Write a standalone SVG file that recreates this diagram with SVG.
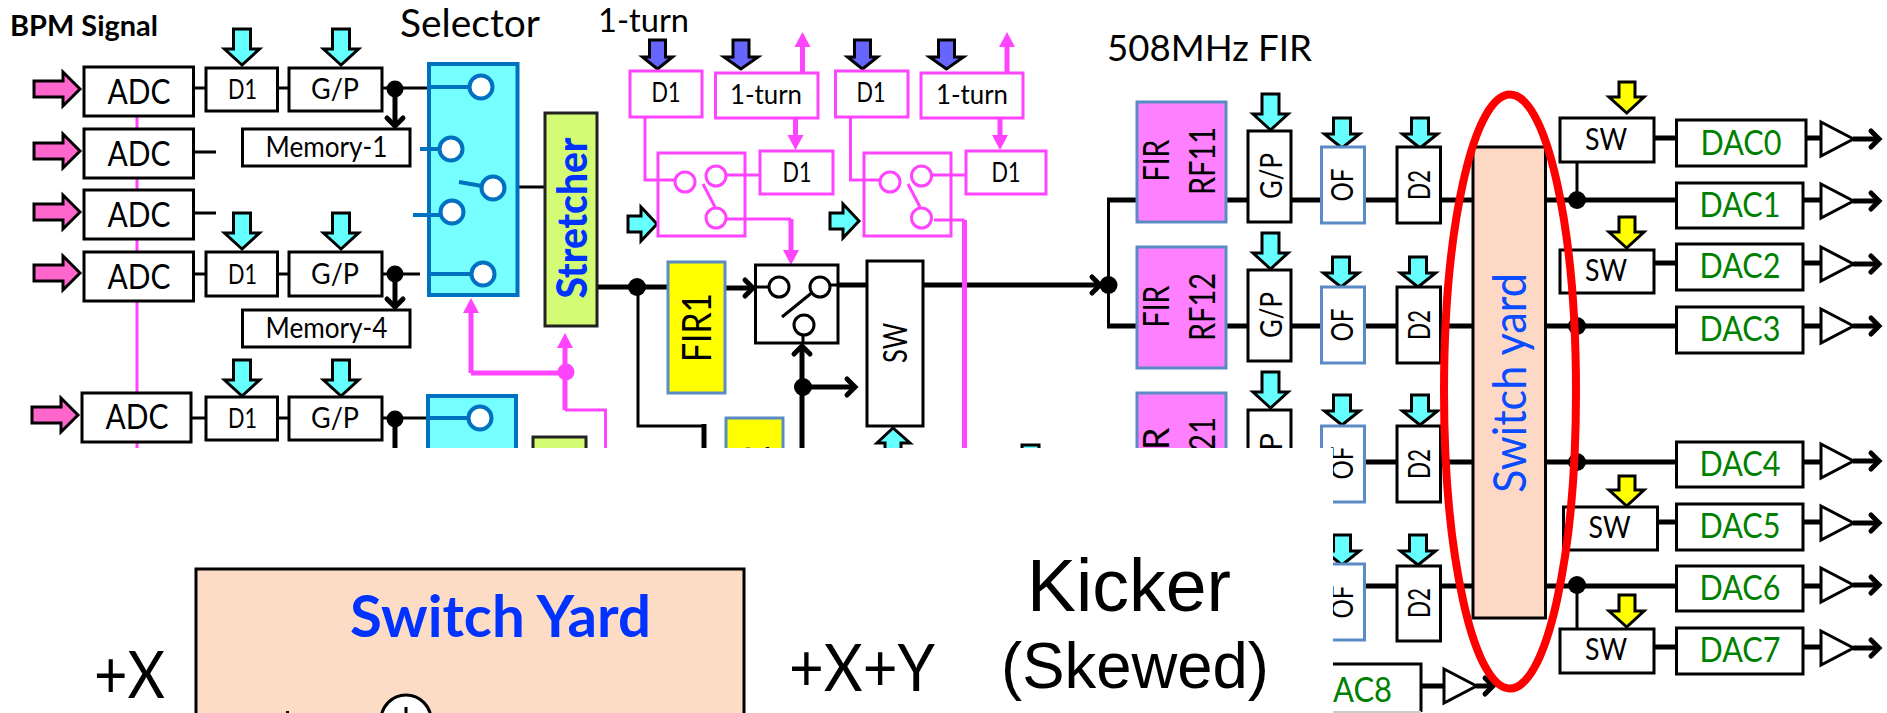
<svg xmlns="http://www.w3.org/2000/svg" width="1887" height="713" viewBox="0 0 1887 713">
<style>
text{font-family:Lato,"Liberation Sans",sans-serif;fill:#000}
.m{text-anchor:middle}
.a{font-family:"Liberation Sans",Arial,sans-serif}
.box{fill:#fff;stroke:#000;stroke-width:3}
.mbox{fill:#fff;stroke:#ff44ff;stroke-width:3}
.bbox{fill:#fff;stroke:#5b8bc4;stroke-width:3}
.fir{fill:#ff80ff;stroke:#5b8bc4;stroke-width:3}
.yel{fill:#ff0;stroke:#5b8bc4;stroke-width:3}
.sel{fill:#75ffff;stroke:#0070c0;stroke-width:4}
.sc{fill:#fff;stroke:#0070c0;stroke-width:4}
.sl{stroke:#0070c0;stroke-width:4;fill:none}
.mc{fill:#fff;stroke:#ff44ff;stroke-width:3}
.ml{stroke:#ff44ff;stroke-width:3;fill:none}
.mt{stroke:#ff44ff;stroke-width:5;fill:none}
.bc{fill:#fff;stroke:#000;stroke-width:3}
.l{stroke:#000;stroke-width:3;fill:none}
.th{stroke:#000;stroke-width:5;fill:none}
.dot{fill:#000}
.pk{fill:#ff66cc;stroke:#000;stroke-width:3}
.cy{fill:#66ffff;stroke:#000;stroke-width:3}
.bl{fill:#6666ff;stroke:#000;stroke-width:3}
.ye{fill:#ff0;stroke:#000;stroke-width:3}
.tri{fill:#fff;stroke:#000;stroke-width:3}
.ch{marker-end:url(#chev)}
.mh{marker-end:url(#mag)}
.g{fill:#008000}
</style>
<defs>
<marker id="chev" markerUnits="userSpaceOnUse" markerWidth="24" markerHeight="28" refX="14" refY="14" viewBox="0 0 24 28" orient="auto"><path d="M6 6L14 14L6 22" fill="none" stroke="#000" stroke-width="5" stroke-linecap="round"/></marker>
<marker id="mag" markerUnits="userSpaceOnUse" markerWidth="18" markerHeight="18" refX="3" refY="8" viewBox="0 0 18 16" orient="auto"><path d="M0 0L15 8L0 16z" fill="#ff44ff"/></marker>
<polygon id="dA" points="0,0 -17.500,-16 -8.500,-16 -8.500,-36 8.500,-36 8.500,-16 17.500,-16"/>
<polygon id="dB" points="0,0 -17.500,-14 -8.500,-14 -8.500,-30 8.500,-30 8.500,-14 17.500,-14"/>
<polygon id="dC" points="0,0 -15,-12 -8,-12 -8,-29 8,-29 8,-12 15,-12"/>
<polygon id="dD" points="0,0 -17,-12 -8,-12 -8,-29 8,-29 8,-12 17,-12"/>
<polygon id="rP" points="0,0 -17,-17 -17,-8 -46,-8 -46,8 -17,8 -17,17"/>
<polygon id="rC" points="0,0 -16,-17 -16,-8 -29,-8 -29,8 -16,8 -16,17"/>
<polygon id="tr" points="0,-17 32.500,0 0,17"/>
</defs>

<g id="connectors">
<path class="ml" d="M137 116V448"/>
<path class="l" d="M193 88H206M277 88H289M382 88H429M193 152H216M193 213H216M193 274H206M277 274H289M382 274H420M191 418H206M277 418H289M382 418H428M505 187H545"/>
<path class="th ch" d="M395 89V126"/>
<path class="th ch" d="M395 274V307"/>
<path class="th" d="M395 419V450"/>
<path class="mt mh" d="M471 373V310"/>
<path class="mt" d="M471 373H566"/>
<path class="mt mh" d="M565 410V345"/>
<path class="ml" d="M565 410H605.500V448"/>
<path class="th" d="M597 287H668"/>
<path class="l" d="M638 287V426H704"/>
<path class="th" d="M704 424V448"/>
<path class="th ch" d="M725 288H753"/>
<path class="th" d="M838 285H867"/>
<path class="th ch" d="M923 285H1100"/>
<path class="l" d="M1108.500 200V326"/>
<path class="th" d="M1107 200H1137M1107 326H1137"/>
<path class="th ch" d="M802 448V346"/>
<path class="th ch" d="M803 387H855"/>
<path class="mt" d="M964.500 220V448"/>
<path class="ml" d="M934 220H964.500"/>
<path class="mt mh" d="M802.500 73V44"/>
<path class="mt mh" d="M1007 73V44"/>
<path class="mt mh" d="M795.500 118V138"/>
<path class="mt mh" d="M1000 118V138"/>
<path class="ml" d="M645 117V180H658M850.500 117V180H864"/>
<path class="ml" d="M745 175H760M951 175H966"/>
<path class="ml" d="M745 219H791"/>
<path class="mt mh" d="M791 219V253"/>
<path class="th" d="M1226 200H1473M1226 326H1473M1226 462H1473M1226 586H1473"/>
<path class="th" d="M1545 200H1676.500M1545 326H1676.500M1545 462H1676.500M1545 586H1676.500"/>
<path class="l" d="M1577 162V200M1577 586V629"/>
<path class="th" d="M1654 138H1676.500M1654 263H1676.500M1657.500 522H1676.500M1654 647H1676.500"/>
<path class="th" d="M1806 138H1821M1803 200H1821M1803 263H1821M1803 326H1821M1803 462H1821M1803 522H1821M1803 586H1821M1803 647H1821M1421 686H1444"/>
<path class="th ch" d="M1853 139H1879"/><path class="th ch" d="M1853 201H1879"/><path class="th ch" d="M1853 264H1879"/><path class="th ch" d="M1853 326H1879"/><path class="th ch" d="M1853 461H1879"/><path class="th ch" d="M1853 523H1879"/><path class="th ch" d="M1853 585H1879"/><path class="th ch" d="M1853 648H1879"/><path class="th ch" d="M1476 686H1493"/>
<circle class="dot" cx="395" cy="89" r="8.500"/><circle class="dot" cx="395" cy="274" r="8.500"/><circle class="dot" cx="395" cy="419" r="8.500"/>
<circle cx="566" cy="372" r="8.500" fill="#ff44ff"/>
<circle class="dot" cx="637" cy="287" r="9"/><circle class="dot" cx="803" cy="387" r="9"/><circle class="dot" cx="1108.500" cy="285" r="9"/>
<circle class="dot" cx="1577" cy="200" r="9"/><circle class="dot" cx="1577" cy="326" r="9"/><circle class="dot" cx="1577" cy="462" r="9"/><circle class="dot" cx="1577" cy="585" r="9"/>
</g>

<g id="input-arrows">
<use href="#rP" class="pk" x="80" y="89"/><use href="#rP" class="pk" x="80" y="151"/><use href="#rP" class="pk" x="80" y="212"/><use href="#rP" class="pk" x="80" y="273"/><use href="#rP" class="pk" x="78" y="415"/>
<use href="#dA" class="cy" x="242" y="65"/><use href="#dA" class="cy" x="341" y="65"/><use href="#dA" class="cy" x="242" y="249"/><use href="#dA" class="cy" x="341" y="249"/><use href="#dA" class="cy" x="242" y="396"/><use href="#dA" class="cy" x="341" y="396"/>
<use href="#dC" class="bl" x="657.500" y="69"/><use href="#dD" class="bl" x="741" y="69"/><use href="#dC" class="bl" x="862.500" y="69"/><use href="#dD" class="bl" x="946.500" y="69"/>
<use href="#rC" class="cy" x="657" y="224"/><use href="#rC" class="cy" x="859" y="221"/>
<use href="#dA" class="cy" x="1270.500" y="130"/><use href="#dB" class="cy" x="1342" y="148"/><use href="#dB" class="cy" x="1420" y="148"/>
<use href="#dA" class="cy" x="1270.500" y="269"/><use href="#dB" class="cy" x="1341" y="287"/><use href="#dB" class="cy" x="1418" y="287"/>
<use href="#dA" class="cy" x="1270.500" y="408"/><use href="#dB" class="cy" x="1342" y="425"/><use href="#dB" class="cy" x="1420" y="425"/>
<use href="#dB" class="cy" x="1342" y="565"/><use href="#dB" class="cy" x="1418" y="565"/>
<polygon class="ye" points="1626.700,113 1609,97 1619,97 1619,82 1635,82 1635,97 1644,97"/>
<polygon class="ye" points="1626.700,248 1609,232 1619,232 1619,217 1635,217 1635,232 1644,232"/>
<polygon class="ye" points="1626.700,506 1609,490 1619,490 1619,476 1635,476 1635,490 1644,490"/>
<polygon class="ye" points="1626.700,627 1609,611 1619,611 1619,595 1635,595 1635,611 1644,611"/>
<polygon class="cy" points="893,428 877,443 885,443 885,452 901,452 901,443 910,443"/>
<rect class="cy" x="1022" y="445" width="17" height="10"/>
</g>

<text id="bpm-label" x="10" y="36" font-size="28" font-weight="700" textLength="148" lengthAdjust="spacingAndGlyphs">BPM Signal</text>
<text id="selector-label" x="400" y="37" font-size="39" textLength="140" lengthAdjust="spacingAndGlyphs">Selector</text>
<text id="oneturn-label" x="598" y="32" font-size="33" textLength="91" lengthAdjust="spacingAndGlyphs">1-turn</text>
<text id="fir-label" x="1107" y="61" font-size="36" textLength="205" lengthAdjust="spacingAndGlyphs">508MHz FIR</text>

<g id="adc1"><rect class="box" x="84" y="67" width="109.500" height="49"/><text class="m" x="139" y="104" font-size="35" textLength="63" lengthAdjust="spacingAndGlyphs">ADC</text></g>
<g id="adc2"><rect class="box" x="84" y="129" width="109.500" height="49"/><text class="m" x="139" y="166" font-size="35" textLength="63" lengthAdjust="spacingAndGlyphs">ADC</text></g>
<g id="adc3"><rect class="box" x="84" y="190" width="109.500" height="49"/><text class="m" x="139" y="227" font-size="35" textLength="63" lengthAdjust="spacingAndGlyphs">ADC</text></g>
<g id="adc4"><rect class="box" x="84" y="252" width="109.500" height="49"/><text class="m" x="139" y="289" font-size="35" textLength="63" lengthAdjust="spacingAndGlyphs">ADC</text></g>
<g id="adc5"><rect class="box" x="82" y="393" width="109" height="49"/><text class="m" x="137" y="429" font-size="35" textLength="63" lengthAdjust="spacingAndGlyphs">ADC</text></g>
<g id="d1a"><rect class="box" x="206" y="68" width="71.500" height="43"/><text class="m" x="242.500" y="99" font-size="26" textLength="29" lengthAdjust="spacingAndGlyphs">D1</text></g>
<g id="d1b"><rect class="box" x="206" y="252" width="71.500" height="44"/><text class="m" x="242.500" y="284" font-size="26" textLength="29" lengthAdjust="spacingAndGlyphs">D1</text></g>
<g id="d1c"><rect class="box" x="206" y="397" width="71.500" height="43"/><text class="m" x="242.500" y="428" font-size="26" textLength="29" lengthAdjust="spacingAndGlyphs">D1</text></g>
<g id="gpa"><rect class="box" x="289" y="68" width="93" height="43"/><text class="m" x="335" y="99" font-size="29" textLength="48" lengthAdjust="spacingAndGlyphs">G/P</text></g>
<g id="gpb"><rect class="box" x="289" y="252" width="93" height="44"/><text class="m" x="335" y="284" font-size="29" textLength="48" lengthAdjust="spacingAndGlyphs">G/P</text></g>
<g id="gpc"><rect class="box" x="289" y="397" width="93" height="43"/><text class="m" x="335" y="428" font-size="29" textLength="48" lengthAdjust="spacingAndGlyphs">G/P</text></g>
<g id="memory1"><rect class="box" x="242.500" y="129" width="167.500" height="37"/><text class="m" x="326.500" y="157" font-size="28" textLength="122" lengthAdjust="spacingAndGlyphs">Memory-1</text></g>
<g id="memory4"><rect class="box" x="242.500" y="310" width="167.500" height="37"/><text class="m" x="326.500" y="338" font-size="28" textLength="122" lengthAdjust="spacingAndGlyphs">Memory-4</text></g>

<g id="selector1"><rect class="sel" x="429" y="64" width="88.500" height="231"/>
<path class="sl" d="M429 87H469M420 149H439M459 182L482 186M413 215H441M427 274H471"/>
<circle class="sc" cx="481" cy="87" r="11.500"/><circle class="sc" cx="451" cy="149" r="11.500"/><circle class="sc" cx="493" cy="188" r="11.500"/><circle class="sc" cx="452" cy="212" r="11.500"/><circle class="sc" cx="483" cy="274" r="11.500"/></g>
<g id="selector2"><rect class="sel" x="428" y="396" width="88" height="70"/><path class="sl" d="M428 418H468"/><circle class="sc" cx="480" cy="418" r="11.500"/></g>
<g id="stretcher1"><rect x="545" y="113" width="52" height="213" fill="#d4fb74" stroke="#222" stroke-width="3"/><text transform="translate(587,218) rotate(-90)" class="m" font-size="42" font-weight="900" style="fill:#0033ff" textLength="161" lengthAdjust="spacingAndGlyphs">Stretcher</text></g>
<g id="stretcher2"><rect x="533" y="437" width="53" height="40" fill="#d4fb74" stroke="#222" stroke-width="3"/></g>

<g id="md1a"><rect class="mbox" x="630" y="71" width="72" height="46"/><text class="m" x="666" y="102" font-size="26" textLength="29" lengthAdjust="spacingAndGlyphs">D1</text></g>
<g id="mturn1"><rect class="mbox" x="715.500" y="73" width="102.500" height="45"/><text class="m" x="766" y="104" font-size="27" textLength="72" lengthAdjust="spacingAndGlyphs">1-turn</text></g>
<g id="md1b"><rect class="mbox" x="835.500" y="71" width="72.500" height="46"/><text class="m" x="871" y="102" font-size="26" textLength="29" lengthAdjust="spacingAndGlyphs">D1</text></g>
<g id="mturn2"><rect class="mbox" x="921" y="73" width="102" height="45"/><text class="m" x="972" y="104" font-size="27" textLength="72" lengthAdjust="spacingAndGlyphs">1-turn</text></g>
<g id="md1c"><rect class="mbox" x="760" y="151" width="73" height="43"/><text class="m" x="797" y="182" font-size="26" textLength="29" lengthAdjust="spacingAndGlyphs">D1</text></g>
<g id="md1d"><rect class="mbox" x="966" y="151" width="80" height="43"/><text class="m" x="1006" y="182" font-size="26" textLength="29" lengthAdjust="spacingAndGlyphs">D1</text></g>
<g id="mswitch1"><rect class="mbox" x="658" y="153" width="87" height="83"/><path class="ml" d="M658 180H675M726 175H745M726 219H745M703 184L715 207"/><circle class="mc" cx="685" cy="182" r="10"/><circle class="mc" cx="716" cy="176" r="10"/><circle class="mc" cx="716" cy="218" r="10"/></g>
<g id="mswitch2"><rect class="mbox" x="864" y="153" width="87" height="83"/><path class="ml" d="M864 180H881M931 175H951M934 220H951M908 184L920 207"/><circle class="mc" cx="890" cy="182" r="10"/><circle class="mc" cx="921.500" cy="176" r="10"/><circle class="mc" cx="921.500" cy="218" r="10"/></g>

<g id="fir1"><rect class="yel" x="668" y="262" width="57" height="131"/><text transform="translate(711,327.500) rotate(-90)" class="m" font-size="40" textLength="69" lengthAdjust="spacingAndGlyphs">FIR1</text></g>
<g id="fir2"><rect class="yel" x="726" y="418" width="57" height="60"/><text transform="translate(769,468) rotate(-90)" font-size="40">2</text></g>
<g id="switch"><rect class="box" x="755.500" y="265" width="82.500" height="78"/><path class="l" d="M755 287H769M830 285H838M782 317L811.500 293M803 335V343"/><circle class="bc" cx="779" cy="287" r="10"/><circle class="bc" cx="820" cy="287" r="10"/><circle class="bc" cx="804" cy="325" r="10"/></g>
<g id="sw-main"><rect class="box" x="867" y="261" width="56" height="165"/><text transform="translate(907,343) rotate(-90)" class="m" font-size="32" textLength="40" lengthAdjust="spacingAndGlyphs">SW</text></g>

<g id="fir-rf11"><rect class="fir" x="1137" y="102" width="89" height="120"/><text transform="translate(1169,160.500) rotate(-90)" class="m" font-size="36" textLength="42" lengthAdjust="spacingAndGlyphs">FIR</text><text transform="translate(1215,161) rotate(-90)" class="m" font-size="36" textLength="68" lengthAdjust="spacingAndGlyphs">RF11</text></g>
<g id="fir-rf12"><rect class="fir" x="1137" y="247" width="89" height="121"/><text transform="translate(1169,306.500) rotate(-90)" class="m" font-size="36" textLength="42" lengthAdjust="spacingAndGlyphs">FIR</text><text transform="translate(1215,307) rotate(-90)" class="m" font-size="36" textLength="68" lengthAdjust="spacingAndGlyphs">RF12</text></g>
<g id="fir-rf21"><rect class="fir" x="1137" y="393" width="89" height="70"/><text transform="translate(1169,450) rotate(-90)" font-size="36">R</text><text transform="translate(1215,451) rotate(-90)" font-size="36" textLength="34" lengthAdjust="spacingAndGlyphs">21</text></g>

<g id="gp1"><rect class="box" x="1248" y="131" width="43" height="91"/><text transform="translate(1281.500,176) rotate(-90)" class="m" font-size="30" textLength="46" lengthAdjust="spacingAndGlyphs">G/P</text></g>
<g id="of1"><rect class="bbox" x="1321.500" y="147" width="43" height="76"/><text transform="translate(1353,185) rotate(-90)" class="m" font-size="30" textLength="33" lengthAdjust="spacingAndGlyphs">OF</text></g>
<g id="d21"><rect class="box" x="1397" y="147" width="43.500" height="76"/><text transform="translate(1429.500,185) rotate(-90)" class="m" font-size="30" textLength="30" lengthAdjust="spacingAndGlyphs">D2</text></g>
<g id="gp2"><rect class="box" x="1248" y="270" width="43" height="91"/><text transform="translate(1281.500,315) rotate(-90)" class="m" font-size="30" textLength="46" lengthAdjust="spacingAndGlyphs">G/P</text></g>
<g id="of2"><rect class="bbox" x="1321.500" y="287" width="43" height="76"/><text transform="translate(1353,325) rotate(-90)" class="m" font-size="30" textLength="33" lengthAdjust="spacingAndGlyphs">OF</text></g>
<g id="d22"><rect class="box" x="1397" y="287" width="43.500" height="76"/><text transform="translate(1429.500,325) rotate(-90)" class="m" font-size="30" textLength="30" lengthAdjust="spacingAndGlyphs">D2</text></g>
<g id="gp3"><rect class="box" x="1248" y="410" width="43" height="60"/><text transform="translate(1281.500,433) rotate(-90)" text-anchor="end" font-size="30">/P</text></g>
<g id="of3"><rect class="bbox" x="1321.500" y="426" width="43" height="76"/><text transform="translate(1353,463) rotate(-90)" class="m" font-size="30" textLength="33" lengthAdjust="spacingAndGlyphs">OF</text></g>
<g id="d23"><rect class="box" x="1397" y="426" width="43.500" height="76"/><text transform="translate(1429.500,464) rotate(-90)" class="m" font-size="30" textLength="30" lengthAdjust="spacingAndGlyphs">D2</text></g>
<g id="of4"><rect class="bbox" x="1321.500" y="564" width="43" height="76"/><text transform="translate(1353,602) rotate(-90)" class="m" font-size="30" textLength="33" lengthAdjust="spacingAndGlyphs">OF</text></g>
<g id="d24"><rect class="box" x="1397" y="566" width="43.500" height="75"/><text transform="translate(1429.500,603) rotate(-90)" class="m" font-size="30" textLength="30" lengthAdjust="spacingAndGlyphs">D2</text></g>

<g id="sw0"><rect class="box" x="1560" y="118" width="94" height="44"/><text class="m" x="1606" y="150" font-size="31" textLength="42" lengthAdjust="spacingAndGlyphs">SW</text></g>
<g id="sw2"><rect class="box" x="1560" y="250" width="94" height="43"/><text class="m" x="1606" y="281" font-size="31" textLength="42" lengthAdjust="spacingAndGlyphs">SW</text></g>
<g id="sw5"><rect class="box" x="1563.500" y="507" width="94" height="43"/><text class="m" x="1609.500" y="538" font-size="31" textLength="42" lengthAdjust="spacingAndGlyphs">SW</text></g>
<g id="sw7"><rect class="box" x="1560" y="629" width="94" height="44"/><text class="m" x="1606" y="660" font-size="31" textLength="42" lengthAdjust="spacingAndGlyphs">SW</text></g>

<g id="dac0"><rect class="box" x="1676.500" y="120" width="129.500" height="46"/><text class="m g" x="1741" y="155" font-size="34" style="fill:#008000" textLength="81" lengthAdjust="spacingAndGlyphs">DAC0</text><use href="#tr" class="tri" x="1821" y="139"/></g>
<g id="dac1"><rect class="box" x="1676.500" y="183" width="126.500" height="45"/><text class="m g" x="1740" y="217" font-size="34" style="fill:#008000" textLength="81" lengthAdjust="spacingAndGlyphs">DAC1</text><use href="#tr" class="tri" x="1821" y="201"/></g>
<g id="dac2"><rect class="box" x="1676.500" y="244" width="126.500" height="46"/><text class="m g" x="1740" y="278" font-size="34" style="fill:#008000" textLength="81" lengthAdjust="spacingAndGlyphs">DAC2</text><use href="#tr" class="tri" x="1821" y="264"/></g>
<g id="dac3"><rect class="box" x="1676.500" y="307" width="126.500" height="46"/><text class="m g" x="1740" y="341" font-size="34" style="fill:#008000" textLength="81" lengthAdjust="spacingAndGlyphs">DAC3</text><use href="#tr" class="tri" x="1821" y="326"/></g>
<g id="dac4"><rect class="box" x="1676.500" y="442" width="126.500" height="45"/><text class="m g" x="1740" y="476" font-size="34" style="fill:#008000" textLength="81" lengthAdjust="spacingAndGlyphs">DAC4</text><use href="#tr" class="tri" x="1821" y="461"/></g>
<g id="dac5"><rect class="box" x="1676.500" y="504" width="126.500" height="46"/><text class="m g" x="1740" y="538" font-size="34" style="fill:#008000" textLength="81" lengthAdjust="spacingAndGlyphs">DAC5</text><use href="#tr" class="tri" x="1821" y="523"/></g>
<g id="dac6"><rect class="box" x="1676.500" y="566" width="126.500" height="45"/><text class="m g" x="1740" y="600" font-size="34" style="fill:#008000" textLength="81" lengthAdjust="spacingAndGlyphs">DAC6</text><use href="#tr" class="tri" x="1821" y="585"/></g>
<g id="dac7"><rect class="box" x="1676.500" y="628" width="126.500" height="46"/><text class="m g" x="1740" y="662" font-size="34" style="fill:#008000" textLength="81" lengthAdjust="spacingAndGlyphs">DAC7</text><use href="#tr" class="tri" x="1821" y="648"/></g>
<g id="yard"><rect x="1473" y="147" width="72.500" height="471" fill="#fdd9c5" stroke="#000" stroke-width="3"/><text transform="translate(1526,383) rotate(-90)" class="m" font-size="47" style="fill:#0a4cff" textLength="220" lengthAdjust="spacingAndGlyphs">Switch yard</text></g>

<rect id="cover" x="0" y="448" width="1333" height="265" fill="#fff"/>

<g id="dac8"><path fill="none" stroke="#000" stroke-width="3" d="M1333 664H1421V712"/><path fill="none" stroke="#ccc" stroke-width="2" d="M1333 712H1421"/><text x="1333" y="702" font-size="34" style="fill:#008000" textLength="59" lengthAdjust="spacingAndGlyphs">AC8</text><use href="#tr" class="tri" x="1444" y="686"/></g>

<ellipse id="red-ring" cx="1510" cy="391.500" rx="66" ry="297" fill="none" stroke="#f00" stroke-width="8"/>

<g id="switch-yard-box"><rect x="196" y="569" width="548" height="150" fill="#fddcc6" stroke="#000" stroke-width="3"/>
<text x="350" y="637" font-size="58" font-weight="700" style="fill:#0033ff" textLength="301" lengthAdjust="spacingAndGlyphs">Switch Yard</text>
<circle cx="406" cy="720" r="25" fill="#fff" stroke="#000" stroke-width="3"/><path class="l" d="M406 707V713M287.500 711V713"/></g>
<text id="plus-x" x="94" y="698" font-size="65" textLength="71" lengthAdjust="spacingAndGlyphs">+X</text>
<text id="plus-xy" x="789" y="691" font-size="65" textLength="146" lengthAdjust="spacingAndGlyphs">+X+Y</text>
<text id="kicker" class="a" x="1027" y="611" font-size="74" textLength="204" lengthAdjust="spacingAndGlyphs">Kicker</text>
<text id="skewed" class="a" x="1001" y="688" font-size="64" textLength="268" lengthAdjust="spacingAndGlyphs">(Skewed)</text>
</svg>
